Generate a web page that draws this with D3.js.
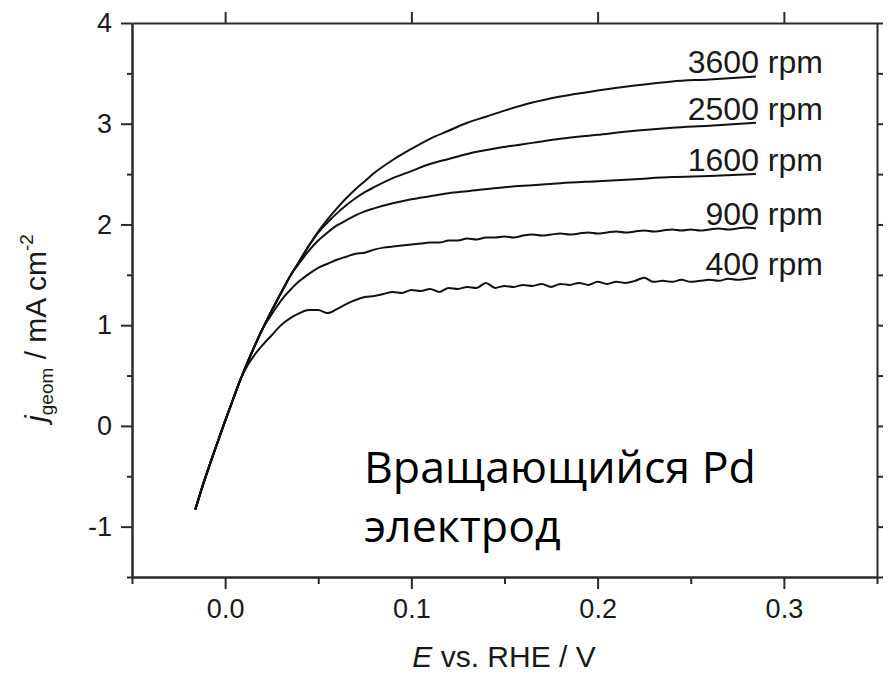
<!DOCTYPE html>
<html>
<head>
<meta charset="utf-8">
<script src="https://cdn.jsdelivr.net/npm/d3@7/dist/d3.min.js"></script>
<style>
body { margin: 0; background: #fff; }
text { font-family: "Liberation Sans", Arial, sans-serif; fill: #1a1a1a; }
</style>
</head>
<body>
<svg id="chart" width="888" height="675"></svg>
<script>
// common kinetic part of all five curves
var trunkE = [-0.016, -0.012, -0.008, -0.004, 0, 0.004, 0.008, 0.012, 0.016, 0.020, 0.024, 0.028, 0.032, 0.036, 0.040, 0.045, 0.050];
var trunkJ = [-0.83, -0.59, -0.37, -0.16, 0.05, 0.25, 0.45, 0.63, 0.80, 0.96, 1.11, 1.25, 1.39, 1.52, 1.64, 1.79, 1.93];

// branches (E, j) after they leave the trunk
var e3600 = [0.055, 0.06, 0.065, 0.07, 0.075, 0.08, 0.09, 0.1, 0.11, 0.12, 0.13, 0.14, 0.15, 0.165, 0.18, 0.2, 0.22, 0.24, 0.26, 0.285];
var j3600 = [2.05, 2.16, 2.26, 2.35, 2.43, 2.51, 2.64, 2.75, 2.85, 2.93, 3.01, 3.07, 3.13, 3.21, 3.27, 3.33, 3.38, 3.42, 3.44, 3.47];

var e2500 = [0.05, 0.055, 0.06, 0.065, 0.07, 0.075, 0.08, 0.09, 0.1, 0.11, 0.12, 0.13, 0.15, 0.165, 0.18, 0.2, 0.22, 0.24, 0.26, 0.285];
var j2500 = [1.92, 2.02, 2.11, 2.19, 2.26, 2.32, 2.37, 2.46, 2.53, 2.60, 2.65, 2.70, 2.77, 2.81, 2.85, 2.89, 2.93, 2.96, 2.98, 3.01];

var e1600 = [0.04, 0.045, 0.05, 0.055, 0.06, 0.065, 0.07, 0.075, 0.08, 0.09, 0.1, 0.11, 0.12, 0.13, 0.15, 0.165, 0.18, 0.2, 0.22, 0.24, 0.26, 0.285];
var j1600 = [1.62, 1.74, 1.84, 1.92, 1.99, 2.04, 2.09, 2.13, 2.16, 2.21, 2.25, 2.28, 2.31, 2.33, 2.37, 2.39, 2.41, 2.43, 2.45, 2.47, 2.48, 2.50];

var e900 = [0.024, 0.028, 0.032, 0.036, 0.04, 0.045, 0.05, 0.055, 0.06, 0.065, 0.07, 0.075, 0.08, 0.085, 0.09, 0.095, 0.1,
            0.105, 0.11, 0.115, 0.12, 0.125, 0.13, 0.135, 0.14, 0.145, 0.15, 0.155, 0.16, 0.165, 0.17, 0.175, 0.18, 0.185,
            0.19, 0.195, 0.2, 0.205, 0.21, 0.215, 0.22, 0.225, 0.23, 0.235, 0.24, 0.245, 0.25, 0.255, 0.26, 0.265, 0.27,
            0.275, 0.28, 0.285];
var j900 = [1.08, 1.19, 1.29, 1.37, 1.44, 1.51, 1.57, 1.61, 1.65, 1.68, 1.71, 1.72, 1.75, 1.77, 1.78, 1.79, 1.80,
            1.81, 1.82, 1.82, 1.84, 1.84, 1.86, 1.85, 1.87, 1.87, 1.88, 1.87, 1.89, 1.90, 1.89, 1.90, 1.91, 1.90,
            1.91, 1.92, 1.91, 1.92, 1.93, 1.92, 1.93, 1.94, 1.93, 1.94, 1.95, 1.94, 1.95, 1.94, 1.95, 1.96, 1.95,
            1.96, 1.97, 1.96];

var e400 = [0.012, 0.016, 0.02, 0.025, 0.03, 0.035, 0.04, 0.045, 0.05, 0.055, 0.06, 0.065, 0.07, 0.075, 0.08, 0.085,
            0.09, 0.095, 0.1, 0.105, 0.11, 0.115, 0.12, 0.125, 0.13, 0.135, 0.14, 0.145, 0.15, 0.155, 0.16, 0.165,
            0.17, 0.175, 0.18, 0.185, 0.19, 0.195, 0.2, 0.205, 0.21, 0.215, 0.22, 0.225, 0.23, 0.235, 0.24, 0.245,
            0.25, 0.255, 0.26, 0.265, 0.27, 0.275, 0.28, 0.285];
var j400 = [0.60, 0.71, 0.80, 0.90, 1.00, 1.07, 1.12, 1.15, 1.15, 1.12, 1.16, 1.21, 1.25, 1.28, 1.29, 1.31,
            1.33, 1.32, 1.35, 1.34, 1.36, 1.33, 1.37, 1.36, 1.38, 1.37, 1.42, 1.37, 1.39, 1.38, 1.40, 1.39,
            1.41, 1.38, 1.41, 1.40, 1.42, 1.40, 1.43, 1.41, 1.43, 1.42, 1.44, 1.47, 1.43, 1.44, 1.43, 1.45,
            1.43, 1.44, 1.45, 1.44, 1.46, 1.45, 1.46, 1.47];

var rpmLabels = ["3600 rpm", "2500 rpm", "1600 rpm", "900 rpm", "400 rpm"];
var xTicks = [0.0, 0.1, 0.2, 0.3];
var xMinor = [-0.05, 0.05, 0.15, 0.25, 0.35];
var yTicks = [-1, 0, 1, 2, 3, 4];
var yMinor = [-1.5, -0.5, 0.5, 1.5, 2.5, 3.5];
var noteLines = ["Вращающийся Pd", "электрод"];

// build a curve: trunk points up to where the branch starts, then the branch
function buildCurve(eb, jb) {
    var pts = [];
    for (var i = 0; i < trunkE.length; i++) {
        if (trunkE[i] < eb[0]) pts.push([trunkE[i], trunkJ[i]]);
    }
    for (var k = 0; k < eb.length; k++) pts.push([eb[k], jb[k]]);
    return pts;
}

var curves = [
    buildCurve(e3600, j3600),
    buildCurve(e2500, j2500),
    buildCurve(e1600, j1600),
    buildCurve(e900, j900),
    buildCurve(e400, j400)
];

var plotL = 132, plotR = 877, plotT = 23, plotB = 577;
var svg = d3.select("#chart");

var x = d3.scaleLinear().domain([-0.05, 0.35]).range([plotL, plotR]);
var y = d3.scaleLinear().domain([-1.5, 4]).range([plotB, plotT]);

function styleAxis(g) {
    g.selectAll("path.domain").attr("stroke", "#2a2a2a").attr("stroke-width", 2);
    g.selectAll(".tick line").attr("stroke", "#2a2a2a").attr("stroke-width", 2);
    g.selectAll(".tick text").attr("font-size", 27).attr("fill", "#1a1a1a")
        .style("font-family", '"Liberation Sans", Arial, sans-serif');
}

// bottom axis
svg.append("g").attr("transform", "translate(0," + plotB + ")")
    .call(d3.axisBottom(x).tickValues(xMinor).tickSize(7).tickSizeOuter(0).tickFormat(""))
    .call(styleAxis);
svg.append("g").attr("transform", "translate(0," + plotB + ")")
    .call(d3.axisBottom(x).tickValues(xTicks).tickSize(12).tickSizeOuter(0).tickPadding(10).tickFormat(d3.format(".1f")))
    .call(styleAxis);
// top axis
svg.append("g").attr("transform", "translate(0," + plotT + ")")
    .call(d3.axisTop(x).tickValues(xTicks).tickSize(11).tickSizeOuter(0).tickFormat(""))
    .call(styleAxis);
// left axis
svg.append("g").attr("transform", "translate(" + plotL + ",0)")
    .call(d3.axisLeft(y).tickValues(yMinor).tickSize(5).tickSizeOuter(0).tickFormat(""))
    .call(styleAxis);
svg.append("g").attr("transform", "translate(" + plotL + ",0)")
    .call(d3.axisLeft(y).tickValues(yTicks).tickSize(11).tickSizeOuter(0).tickPadding(9).tickFormat(function (d) { return String(d); }))
    .call(styleAxis);
// right axis
svg.append("g").attr("transform", "translate(" + plotR + ",0)")
    .call(d3.axisRight(y).tickValues(yMinor.concat(yTicks)).tickSize(6).tickSizeOuter(0).tickFormat(""))
    .call(styleAxis);

// curves
var line = d3.line()
    .x(function (d) { return x(d[0]); })
    .y(function (d) { return y(d[1]); })
    .curve(d3.curveMonotoneX);

svg.selectAll("path.curve")
    .data(curves)
    .enter().append("path")
    .attr("class", "curve")
    .attr("fill", "none")
    .attr("stroke", "#111")
    .attr("stroke-width", 2)
    .attr("stroke-linejoin", "round")
    .attr("d", line);

// rpm labels at the right end of each curve
svg.selectAll("text.rpm")
    .data(curves)
    .enter().append("text")
    .attr("class", "rpm")
    .attr("text-anchor", "end")
    .attr("font-size", 32)
    .attr("x", function (d) { return x(d[d.length - 1][0]) + 67; })
    .attr("y", function (d) { return y(d[d.length - 1][1]) - 3; })
    .text(function (d, i) { return rpmLabels[i]; });

// axis titles
var xt = svg.append("text").attr("x", 504).attr("y", 667).attr("text-anchor", "middle").attr("font-size", 30);
xt.append("tspan").attr("font-style", "italic").text("E");
xt.append("tspan").text(" vs. RHE / V");

var yt = svg.append("text").attr("transform", "translate(46,328) rotate(-90)")
    .attr("text-anchor", "middle").attr("font-size", 30);
yt.append("tspan").attr("font-style", "italic").text("j");
yt.append("tspan").attr("font-size", 19).attr("dy", 7).text("geom");
yt.append("tspan").attr("dy", -7).text(" / mA cm");
yt.append("tspan").attr("font-size", 19).attr("dy", -13).text("-2");

// annotation
var note = svg.selectAll("text.note")
    .data(noteLines)
    .enter().append("text")
    .attr("class", "note")
    .attr("x", 364)
    .attr("y", function (d, i) { return 483 + i * 59; })
    .attr("font-size", 42)
    .style("font-family", '"Open Sans", "Noto Sans", sans-serif')
    .style("fill", "#000")
    .text(function (d) { return d; });
var w = note.nodes()[0].getComputedTextLength();
note.attr("font-size", 42 * 392 / w);
</script>
</body>
</html>
